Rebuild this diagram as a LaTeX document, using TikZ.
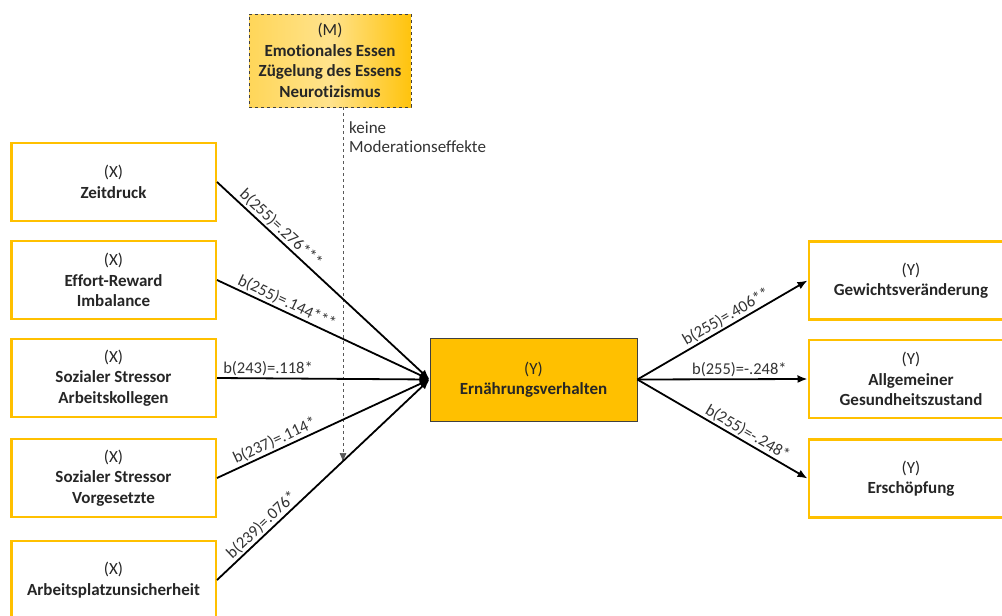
\documentclass[tikz,border=0pt]{standalone}
\usepackage{fontspec}
\setmainfont{Carlito}[Ligatures=NoCommon]
\usetikzlibrary{arrows.meta}
\definecolor{gold}{HTML}{FFC000}
\definecolor{txt}{HTML}{262626}
\definecolor{lbl}{HTML}{333333}
\begin{document}
\begin{tikzpicture}[x=1pt,y=-1pt,
  boxfont/.style={font=\fontsize{17}{20.5}\selectfont},
  xbox/.style={draw=gold, line width=2.5pt, fill=white, minimum width=204.5pt,
    minimum height=78pt, align=center, boxfont, text=txt, inner sep=0pt},
  cbox/.style={draw=black!75, line width=0.8pt, fill=gold, minimum width=207pt,
    minimum height=83pt, align=center, boxfont, text=txt, inner sep=0pt},
  mbox/.style={draw=black!75, dashed, line width=0.7pt, left color=gold!65,
    right color=gold!95, middle color=gold!45, minimum width=162pt,
    minimum height=93pt, align=center, boxfont, text=txt, inner sep=0pt},
  arr/.style={line width=1.8pt, -{Latex[length=10pt,width=8pt]}},
  lab/.style={sloped, above, font=\fontsize{16.5}{19}\selectfont, text=lbl, inner sep=1.5pt},
  modline/.style={draw=black!65, dashed, line width=0.7pt, -{Latex[length=9pt,width=7pt]}}
]
\useasboundingbox (0,0) rectangle (1002,616);
\clip (0,0) rectangle (1002,616);

\node[xbox] (x1) at (113.5,182) {(X)\\\textbf{Zeitdruck}};
\node[xbox] (x2) at (113.5,280) {(X)\\\textbf{Effort-Reward}\\\textbf{Imbalance}};
\node[xbox] (x3) at (113.5,378) {(X)\\\textbf{Sozialer Stressor}\\\textbf{Arbeitskollegen}};
\node[xbox] (x4) at (113.5,478) {(X)\\\textbf{Sozialer Stressor}\\\textbf{Vorgesetzte}};
\node[xbox] (x5) at (113.5,580) {(X)\\\textbf{Arbeitsplatzunsicherheit}};

\node[cbox] (c) at (533.5,379.5) {(Y)\\\textbf{Ernährungsverhalten}};

\node[xbox] (y1) at (911,280.5) {(Y)\\\textbf{Gewichtsveränderung}};
\node[xbox] (y2) at (911,379) {(Y)\\\textbf{Allgemeiner}\\\textbf{Gesundheitszustand}};
\node[xbox] (y3) at (911,478.5) {(Y)\\\textbf{Erschöpfung}};

\node[mbox] (m) at (330,60.5) {(M)\\\textbf{Emotionales Essen}\\\textbf{Zügelung des Essens}\\\textbf{Neurotizismus}};

\coordinate (mt) at ([xshift=13pt]m.south);
\coordinate (me) at (343,462);
\draw[modline] (mt) -- (me);
\node[anchor=north west, align=left, font=\fontsize{17}{19.5}\selectfont, text=lbl, inner sep=0pt] (k) at (349,121) {keine\\Moderationseffekte};

\draw[arr] (x1.east) -- node[lab, pos=0.27] {b(255)=.276***} (c.west);
\draw[arr] (x2.east) -- node[lab, pos=0.31] {b(255)=.144***} (c.west);
\draw[arr] (x3.east) -- node[lab, pos=0.24] {b(243)=.118*} (c.west);
\draw[arr] (x4.east) -- node[lab, pos=0.29] {b(237)=.114*} (c.west);
\draw[arr] (x5.east) -- node[lab, pos=0.24] {b(239)=.076*} (c.west);

\draw[arr] (c.east) -- node[lab, pos=0.55] {b(255)=.406**} (y1.west);
\draw[arr] (c.east) -- node[lab, pos=0.6] {b(255)=-.248*} (y2.west);
\draw[arr] (c.east) -- node[lab, pos=0.62] {b(255)=-.248*} (y3.west);
\end{tikzpicture}
\end{document}
